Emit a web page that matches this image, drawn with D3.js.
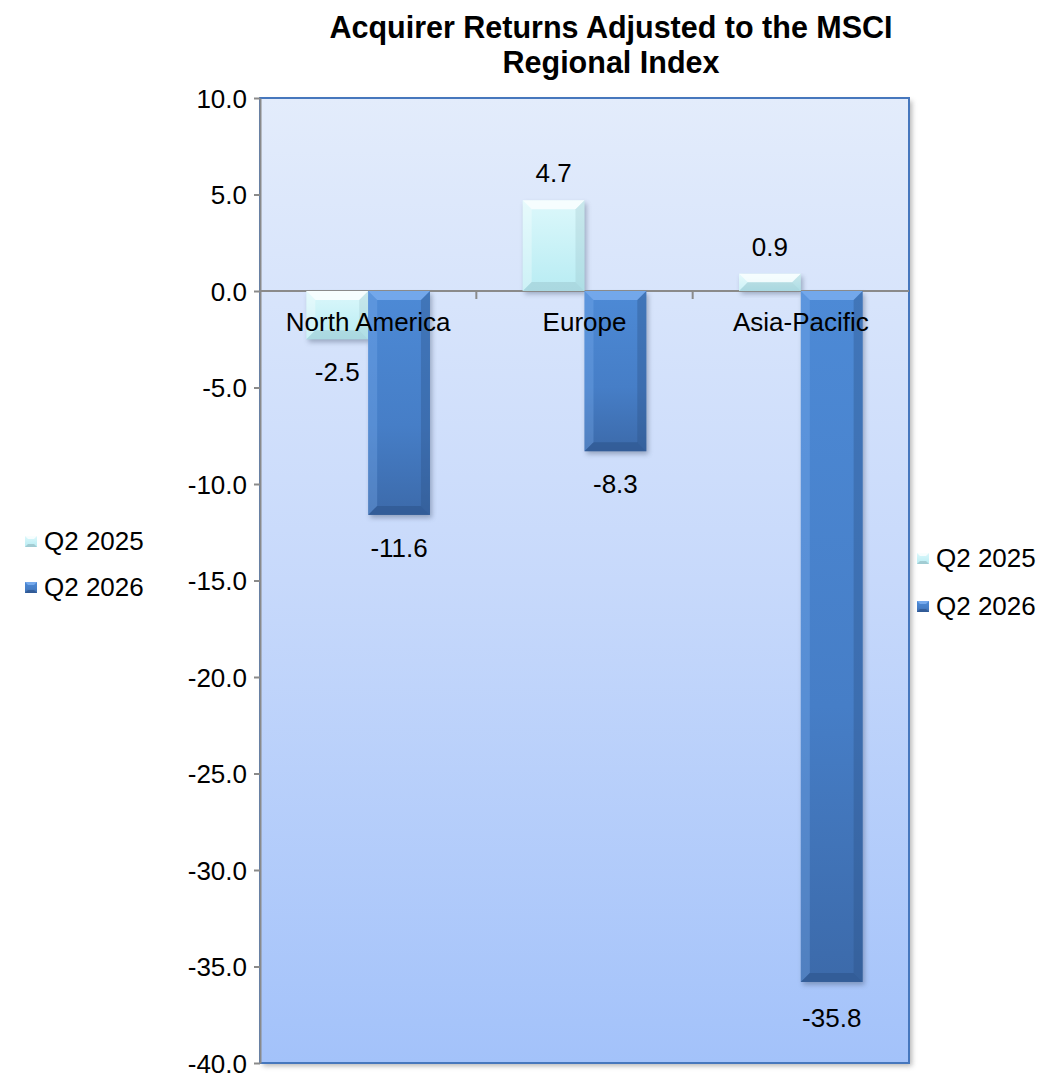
<!DOCTYPE html>
<html><head><meta charset="utf-8">
<script src="https://cdn.jsdelivr.net/npm/d3@7"></script>
<style>body{margin:0;background:#fff;} text{font-family:"Liberation Sans",Arial,sans-serif;}</style>
</head><body>
<svg id="c" width="1057" height="1080"></svg>
<script>
const categories = ["North America", "Europe", "Asia-Pacific"];
const seriesNames = ["Q2 2025", "Q2 2026"];
const q2025 = [-2.5, 4.7, 0.9];
const q2026 = [-11.6, -8.3, -35.8];
const yTicks = [10, 5, 0, -5, -10, -15, -20, -25, -30, -35, -40];
const titleLines = ["Acquirer Returns Adjusted to the MSCI", "Regional Index"];

const FS = 26;
const fmt = v => d3.format(".1f")(v).replace("\u2212", "-");
const svg = d3.select("#c");
const L = 260, R = 909, T = 98, B = 1063;
const y = d3.scaleLinear().domain([-40, 10]).range([B, T]);
const x0 = d3.scaleBand().domain(categories).range([L, R]).paddingInner(0).paddingOuter(0);
const bw = x0.bandwidth() / 3.5;

const defs = svg.append("defs");
const bg = defs.append("linearGradient").attr("id", "bg").attr("x1", 0).attr("y1", 0).attr("x2", 0).attr("y2", 1);
bg.append("stop").attr("offset", "0").attr("stop-color", "#e3ecfb");
bg.append("stop").attr("offset", "0.5").attr("stop-color", "#c7d9fb");
bg.append("stop").attr("offset", "1").attr("stop-color", "#a3c2fa");

const g1 = defs.append("linearGradient").attr("id", "g1").attr("x1", 0).attr("y1", 0).attr("x2", 0).attr("y2", 1);
g1.append("stop").attr("offset", "0").attr("stop-color", "#dcf8fb");
g1.append("stop").attr("offset", "1").attr("stop-color", "#b8ecf3");
const g2 = defs.append("linearGradient").attr("id", "g2").attr("x1", 0).attr("y1", 0).attr("x2", 0).attr("y2", 1);
g2.append("stop").attr("offset", "0").attr("stop-color", "#4d8ad6");
g2.append("stop").attr("offset", "0.6").attr("stop-color", "#467ec7");
g2.append("stop").attr("offset", "1").attr("stop-color", "#3c6aaa");

const sh = defs.append("filter").attr("id", "sh").attr("x", "-20%").attr("y", "-20%").attr("width", "140%").attr("height", "140%");
sh.append("feGaussianBlur").attr("stdDeviation", 2.5);

// chart frame shadow
svg.append("rect").attr("x", L + 3).attr("y", T + 3).attr("width", R - L).attr("height", B - T)
  .attr("fill", "#999").attr("filter", "url(#sh)").attr("opacity", 0.7);
svg.append("rect").attr("x", L).attr("y", T).attr("width", R - L).attr("height", B - T)
  .attr("fill", "url(#bg)").attr("stroke", "#4677bd").attr("stroke-width", 2);

// y axis
const yAxis = d3.axisLeft(y).tickValues(yTicks).tickFormat(fmt).tickSize(6).tickSizeOuter(0);
const ya = svg.append("g").attr("transform", `translate(${L},0)`).call(yAxis);
ya.attr("font-size", FS).attr("font-family", "Liberation Sans, Arial, sans-serif");
ya.select(".domain").attr("stroke", "#8a8a8a").attr("stroke-width", 2);
ya.selectAll(".tick line").attr("stroke", "#8a8a8a").attr("stroke-width", 2);
ya.selectAll(".tick text").attr("fill", "#000").attr("x", -13).attr("dy", "0.35em");

const series = [
  {name: seriesNames[0], vals: q2025, fill: "url(#g1)", light: "#ffffff", dark: "#8fb5bd", dop: 0.35},
  {name: seriesNames[1], vals: q2026, fill: "url(#g2)", light: "#80b2f2", dark: "#2a4f85", dop: 0.5}
];

const bars = [];
series.forEach((s, si) => {
  categories.forEach((c, ci) => {
    const v = s.vals[ci];
    const bx = x0(c) + bw * 0.75 + si * bw;
    const y1 = y(Math.max(0, v)), y2 = y(Math.min(0, v));
    bars.push({s, si, c, v, x: bx, y1, y2});
  });
});

const barG = svg.append("g");
bars.forEach(b => {
  const h = b.y2 - b.y1;
  barG.append("rect").attr("x", b.x + 2).attr("y", b.y1 + 3).attr("width", bw).attr("height", h)
    .attr("fill", "#40506a").attr("opacity", 0.4).attr("filter", "url(#sh)");
});

// zero line
svg.append("line").attr("x1", L).attr("x2", R).attr("y1", y(0)).attr("y2", y(0)).attr("stroke", "#8a8a8a").attr("stroke-width", 2);
x0.domain().slice(1).forEach(c => {
  svg.append("line").attr("x1", x0(c)).attr("x2", x0(c)).attr("y1", y(0)).attr("y2", y(0) + 8).attr("stroke", "#8a8a8a").attr("stroke-width", 2);
});

bars.forEach(b => {
  const h = b.y2 - b.y1;
  const bv = Math.min(9, h / 2, bw / 2);
  const x1 = b.x, x2 = b.x + bw, t = b.y1, bt = b.y2;
  const g = svg.append("g");
  g.append("rect").attr("x", x1).attr("y", t).attr("width", bw).attr("height", h).attr("fill", b.s.fill);
  const poly = (pts, col, op) => g.append("polygon").attr("points", pts.map(p => p.join(",")).join(" ")).attr("fill", col).attr("opacity", op);
  poly([[x1, t], [x2, t], [x2 - bv, t + bv], [x1 + bv, t + bv]], b.s.light, 0.75);
  poly([[x1, t], [x1 + bv, t + bv], [x1 + bv, bt - bv], [x1, bt]], b.s.light, 0.3);
  poly([[x2, t], [x2, bt], [x2 - bv, bt - bv], [x2 - bv, t + bv]], b.s.dark, b.s.dop * 0.7);
  poly([[x1, bt], [x1 + bv, bt - bv], [x2 - bv, bt - bv], [x2, bt]], b.s.dark, b.s.dop);
});

// category labels
svg.append("g").selectAll("text").data(categories).join("text")
  .attr("x", d => x0(d) + x0.bandwidth() / 2).attr("y", y(0) + 40)
  .attr("text-anchor", "middle").attr("font-size", FS).attr("fill", "#000").text(d => d);

// data labels
svg.append("g").selectAll("text").data(bars).join("text")
  .attr("x", d => d.x + bw / 2)
  .attr("y", d => d.v >= 0 ? d.y1 - 18 : d.y2 + 42 + (d.v < -30 ? 3 : 0))
  .attr("text-anchor", "middle").attr("font-size", FS).attr("fill", "#000")
  .text(d => fmt(d.v));

// title
svg.append("g").selectAll("text").data(titleLines).join("text")
  .attr("x", 611).attr("y", (d, i) => 38 + i * 35)
  .attr("text-anchor", "middle").attr("font-size", 30.5).attr("font-weight", "bold").attr("fill", "#000").text(d => d);

// legends
function legend(lx, ly, gap) {
  const lg = svg.append("g");
  series.forEach((s, i) => {
    const yy = ly + i * gap;
    lg.append("rect").attr("x", lx).attr("y", yy - 5).attr("width", 12).attr("height", 11).attr("fill", s.fill);
    const bv = 3;
    const x1 = lx, x2 = lx + 12, t = yy - 5, bt = yy + 6;
    const poly = (pts, col, op) => lg.append("polygon").attr("points", pts.map(p => p.join(",")).join(" ")).attr("fill", col).attr("opacity", op);
    poly([[x1, t], [x2, t], [x2 - bv, t + bv], [x1 + bv, t + bv]], s.light, 0.8);
    poly([[x1, bt], [x1 + bv, bt - bv], [x2 - bv, bt - bv], [x2, bt]], s.dark, 0.6);
    lg.append("text").attr("x", lx + 19).attr("y", yy + 9).attr("font-size", FS).attr("fill", "#000").text(s.name);
  });
}
legend(25, 541, 46);
legend(917, 558, 48);
</script>
</body></html>
